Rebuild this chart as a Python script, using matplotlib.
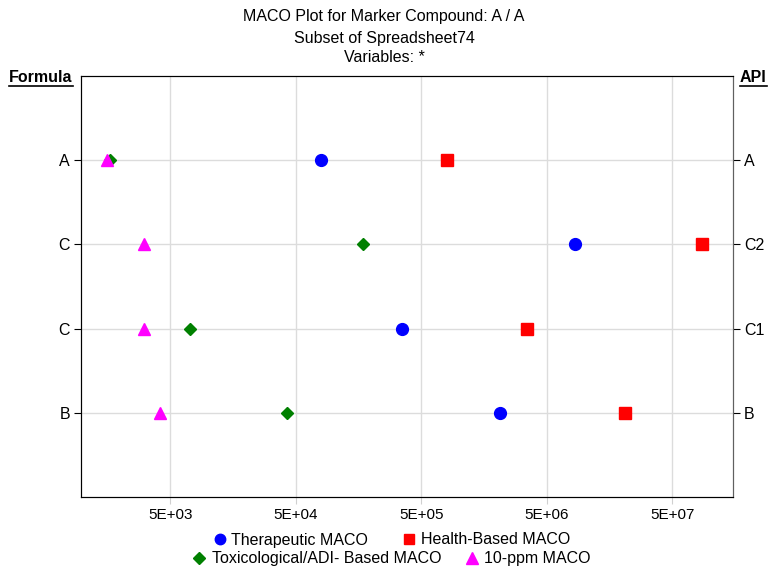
import numpy as np
import matplotlib.pyplot as plt
from matplotlib.ticker import FixedLocator, NullLocator

plt.rcParams['font.family'] = ['Liberation Sans', 'DejaVu Sans']

formula_labels = ['A', 'C', 'C', 'B']
api_labels = ['A', 'C2', 'C1', 'B']

therapeutic = [8.0e4, 8.4e6, 3.5e5, 2.1e6]
health_based = [8.0e5, 8.6e7, 3.5e6, 2.1e7]
toxicological = [1.65e3, 1.72e5, 7.2e3, 4.3e4]
ten_ppm = [1.58e3, 3.1e3, 3.1e3, 4.15e3]

xticks = [5e3, 5e4, 5e5, 5e6, 5e7]
xtick_labels = ['5E+03', '5E+04', '5E+05', '5E+06', '5E+07']

ypos = np.arange(len(formula_labels), 0, -1)

fig = plt.figure(figsize=(7.68, 5.67), dpi=100)
ax = fig.add_axes([81/768, 1 - 497/567, (733-81)/768, (497-76)/567])

ax.plot(ten_ppm, ypos, '^', color='magenta', ms=9, ls='none', zorder=4)
ax.plot(toxicological, ypos, 'D', color='green', ms=6.5, ls='none', zorder=3)
ax.plot(therapeutic, ypos, 'o', color='blue', ms=8.5, ls='none', zorder=3)
ax.plot(health_based, ypos, 's', color='red', ms=8, ls='none', zorder=3)

ax.set_xscale('log')
ax.set_xlim(975, 1.52e8)
ax.set_ylim(0, 5)
ax.xaxis.set_major_locator(FixedLocator(xticks))
ax.xaxis.set_minor_locator(NullLocator())
ax.set_xticklabels(xtick_labels, fontsize=11)
ax.set_yticks(ypos)
ax.set_yticklabels(formula_labels, fontsize=11.5)
ax.tick_params(axis='x', length=5, color='#d0d0d0', pad=3)
ax.tick_params(axis='y', length=5, direction='out', pad=3)
ax.grid(True, color='#dcdcdc', lw=1)
ax.set_axisbelow(True)
for s in ax.spines.values():
    s.set_color('#202020')
ax.spines['right'].set_color('#606060')

ax2 = ax.twinx()
ax2.set_ylim(0, 5)
ax2.set_yticks(ypos)
ax2.set_yticklabels(api_labels, fontsize=11.5)
ax2.tick_params(axis='y', length=5, pad=3)
ax2.spines['right'].set_color('#606060')

fig.text(0.5, 1 - 17/567, 'MACO Plot for Marker Compound: A / A', ha='center', va='center', fontsize=11.5)
fig.text(0.5, 1 - 38/567, 'Subset of Spreadsheet74', ha='center', va='center', fontsize=11.5)
fig.text(0.5, 1 - 58/567, 'Variables: *', ha='center', va='center', fontsize=11.5)

t1 = fig.text(9/768, 1 - 78/567, 'Formula', ha='left', va='center', fontsize=11.5, fontweight='bold')
t2 = fig.text(740/768, 1 - 78/567, 'API', ha='left', va='center', fontsize=11.5, fontweight='bold')
fig.canvas.draw()
rend = fig.canvas.get_renderer()
for t in (t1, t2):
    bb = t.get_window_extent(rend)
    y = bb.y0
    fig.add_artist(plt.Line2D([bb.x0 / fig.bbox.width, bb.x1 / fig.bbox.width],
                              [y / fig.bbox.height, y / fig.bbox.height],
                              color='black', lw=1.2))

h_ther, = ax.plot([], [], 'o', color='blue', ms=7.5)
h_health, = ax.plot([], [], 's', color='red', ms=7.5)
h_tox, = ax.plot([], [], 'D', color='green', ms=6)
h_ten, = ax.plot([], [], '^', color='magenta', ms=8)

leg1 = fig.legend([h_ther, h_health], ['Therapeutic MACO', 'Health-Based MACO'],
                  loc='center', bbox_to_anchor=(0.51, 1 - 540/567), ncol=2, frameon=False,
                  fontsize=11.5, handlelength=0.8, handletextpad=0.3, columnspacing=2.2,
                  borderpad=0, borderaxespad=0)
leg2 = fig.legend([h_tox, h_ten], ['Toxicological/ADI- Based MACO', '10-ppm MACO'],
                  loc='center', bbox_to_anchor=(0.51, 1 - 559/567), ncol=2, frameon=False,
                  fontsize=11.5, handlelength=0.8, handletextpad=0.4, columnspacing=1.5,
                  borderpad=0, borderaxespad=0)

fig.savefig('out.png', dpi=100)
